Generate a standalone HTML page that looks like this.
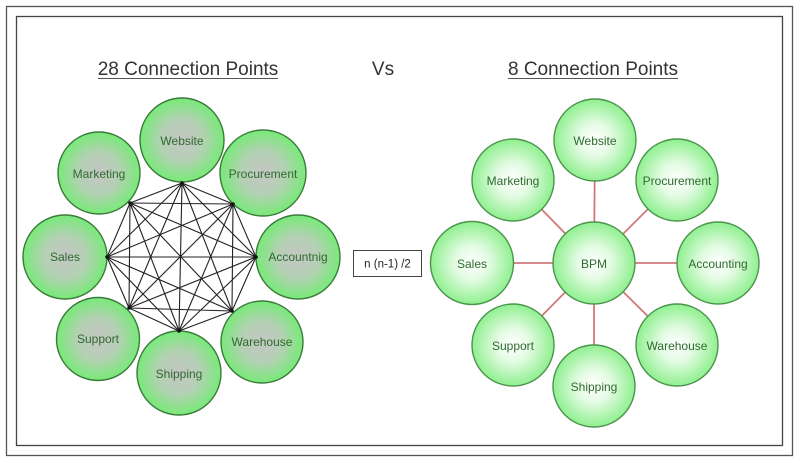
<!DOCTYPE html>
<html><head><meta charset="utf-8"><style>
html,body{margin:0;padding:0;background:#fff;}
svg{display:block;}
text{font-family:"Liberation Sans",sans-serif;}
</style></head><body>
<svg width="800" height="463" viewBox="0 0 800 463" xmlns="http://www.w3.org/2000/svg">
<defs>
<radialGradient id="gl" cx="50%" cy="50%" r="50%">
<stop offset="0" stop-color="#c4c6c4"/>
<stop offset="0.5" stop-color="#b4d0b4"/>
<stop offset="1" stop-color="#78ea78"/>
</radialGradient>
<radialGradient id="gr" cx="50%" cy="50%" r="50%">
<stop offset="0" stop-color="#ffffff"/>
<stop offset="0.4" stop-color="#e4fbe4"/>
<stop offset="1" stop-color="#8ff08f"/>
</radialGradient>
</defs>
<rect x="6.5" y="6.5" width="786" height="449" fill="none" stroke="#555" stroke-width="1.3"/>
<rect x="16.5" y="16.5" width="766" height="429" fill="none" stroke="#444" stroke-width="1.3"/>

<text x="188" y="75" font-size="19" text-anchor="middle" fill="#333">28 Connection Points</text>
<line x1="98" y1="78.5" x2="278" y2="78.5" stroke="#555" stroke-width="1"/>
<text x="383" y="75" font-size="19" text-anchor="middle" fill="#333">Vs</text>
<text x="593" y="75" font-size="19" text-anchor="middle" fill="#333">8 Connection Points</text>
<line x1="508" y1="78.5" x2="678" y2="78.5" stroke="#555" stroke-width="1"/>

<!-- left circles -->
<g stroke="#3c7a3c" stroke-width="1.4" fill="url(#gl)">
<circle cx="182" cy="140" r="42"/>
<circle cx="99" cy="173" r="41"/>
<circle cx="263" cy="173" r="43"/>
<circle cx="65" cy="257" r="42"/>
<circle cx="298" cy="257" r="42"/>
<circle cx="98" cy="339" r="41.5"/>
<circle cx="179" cy="373" r="42"/>
<circle cx="262" cy="342" r="41"/>
</g>
<!-- mesh lines -->
<g stroke="#222" stroke-width="1.1" fill="none">
<path d="M182,183 L130,203 M182,183 L233,204 M182,183 L107,257 M182,183 L256,257 M182,183 L129,308 M182,183 L232,311 M182,183 L179,331
M130,203 L233,204 M130,203 L107,257 M130,203 L256,257 M130,203 L129,308 M130,203 L232,311 M130,203 L179,331
M233,204 L107,257 M233,204 L256,257 M233,204 L129,308 M233,204 L232,311 M233,204 L179,331
M107,257 L256,257 M107,257 L129,308 M107,257 L232,311 M107,257 L179,331
M256,257 L129,308 M256,257 L232,311 M256,257 L179,331
M129,308 L232,311 M129,308 L179,331
M232,311 L179,331"/>
</g>
<g fill="#111">
<circle cx="182" cy="183" r="1.8"/><circle cx="130" cy="203" r="1.8"/><circle cx="233" cy="204" r="1.8"/>
<circle cx="107" cy="257" r="1.8"/><circle cx="256" cy="257" r="1.8"/><circle cx="129" cy="308" r="1.8"/>
<circle cx="232" cy="311" r="1.8"/><circle cx="179" cy="331" r="1.8"/>
</g>
<g font-size="12" fill="#2f6a2f" text-anchor="middle">
<text x="182" y="145">Website</text>
<text x="99" y="178">Marketing</text>
<text x="263" y="178">Procurement</text>
<text x="65" y="261">Sales</text>
<text x="298" y="261">Accountnig</text>
<text x="98" y="343">Support</text>
<text x="179" y="378">Shipping</text>
<text x="262" y="346">Warehouse</text>
</g>

<!-- formula box -->
<rect x="353.5" y="250.5" width="68" height="26" fill="#fff" stroke="#444" stroke-width="1"/>
<text x="387.5" y="267.5" font-size="11.5" text-anchor="middle" fill="#222">n (n-1) /2</text>

<!-- right hub lines -->
<g stroke="#d07878" stroke-width="1.8">
<line x1="594" y1="263" x2="595" y2="140"/>
<line x1="594" y1="263" x2="513" y2="180"/>
<line x1="594" y1="263" x2="677" y2="180"/>
<line x1="594" y1="263" x2="472" y2="263"/>
<line x1="594" y1="263" x2="718" y2="263"/>
<line x1="594" y1="263" x2="513" y2="345"/>
<line x1="594" y1="263" x2="677" y2="345"/>
<line x1="594" y1="263" x2="594" y2="386"/>
</g>
<g stroke="#4c944c" stroke-width="1.4" fill="url(#gr)">
<circle cx="595" cy="140" r="41"/>
<circle cx="513" cy="180" r="41"/>
<circle cx="677" cy="180" r="41"/>
<circle cx="472" cy="263" r="41.5"/>
<circle cx="594" cy="263" r="41"/>
<circle cx="718" cy="263" r="41"/>
<circle cx="513" cy="345" r="41"/>
<circle cx="677" cy="345" r="41"/>
<circle cx="594" cy="386" r="41"/>
</g>
<g font-size="12" fill="#2f6a2f" text-anchor="middle">
<text x="595" y="145">Website</text>
<text x="513" y="185">Marketing</text>
<text x="677" y="185">Procurement</text>
<text x="472" y="268">Sales</text>
<text x="594" y="268">BPM</text>
<text x="718" y="268">Accounting</text>
<text x="513" y="350">Support</text>
<text x="677" y="350">Warehouse</text>
<text x="594" y="391">Shipping</text>
</g>
</svg>
</body></html>
